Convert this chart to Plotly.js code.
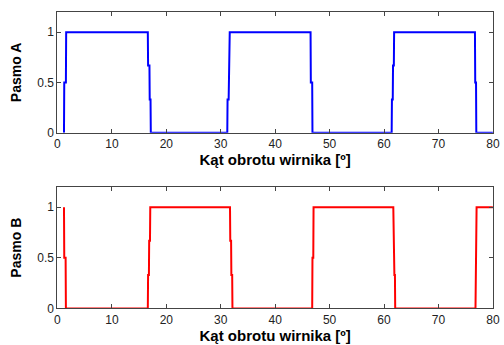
<!DOCTYPE html>
<html><head><meta charset="utf-8">
<script src="https://cdn.plot.ly/plotly-3.0.1.min.js"></script>
<style>html,body{margin:0;padding:0;background:#fff}#c{width:504px;height:345px}</style>
</head><body><div id="c"></div>
<script>
// Pasmo A (phase A) – angle [deg] and value
const angleA = [1.2,1.25,1.55,1.6,16.6,16.65,16.9,16.95,17.1,17.15,31.2,31.25,31.45,31.5,31.6,31.65,46.5,46.55,46.8,46.85,61.4,61.45,61.6,61.65,61.8,61.85,76.7,76.75,76.9,76.95,80];
const valueA = [0,0.5,0.5,1,1,0.67,0.67,0.33,0.33,0,0,0.33,0.33,0.67,0.67,1,1,0.5,0.5,0,0,0.33,0.33,0.67,0.67,1,1,0.5,0.5,0,0];
// Pasmo B (phase B)
const angleB = [1.2,1.25,1.5,1.55,16.6,16.65,16.8,16.85,17.0,17.05,31.7,31.75,31.9,31.95,32.1,32.15,46.8,46.85,47.0,47.05,61.7,61.75,61.85,61.9,62.0,62.05,76.8,76.85,76.95,77.0,80];
const valueB = [1,0.5,0.5,0,0,0.33,0.33,0.67,0.67,1,1,0.67,0.67,0.33,0.33,0,0,0.5,0.5,1,1,0.67,0.67,0.33,0.33,0,0,0.5,0.5,1,1];
const xTicks = [0,10,20,30,40,50,60,70,80];
const yTicks = [0,0.5,1];
const yTickText = ['0','0.5','1'];
const xTitle = 'Kąt obrotu wirnika [º]';
const yTitleA = 'Pasmo A';
const yTitleB = 'Pasmo B';

const font = {family:'Liberation Sans, Arial, sans-serif', size:12, color:'#222'};
const xTitleFont = {family:'Liberation Sans, Arial, sans-serif', size:15, color:'#000', weight:'bold'};
const yTitleFont = {family:'Liberation Sans, Arial, sans-serif', size:14, color:'#000', weight:'bold'};
function xax(anchor){return {domain:[0.114,0.978], range:[0,80], tickvals:xTicks, ticks:'inside', ticklen:4, tickcolor:'#444', showline:true, linecolor:'#444', linewidth:1, mirror:'allticks', showgrid:false, zeroline:false, anchor:anchor, tickfont:font, title:{text:xTitle, font:xTitleFont, standoff:4}};}
function yax(dom,anchor,t){return {domain:dom, range:[0,1.2], tickvals:yTicks, ticktext:yTickText, ticks:'inside', ticklen:4, tickcolor:'#444', showline:true, linecolor:'#444', linewidth:1, mirror:'allticks', showgrid:false, zeroline:false, anchor:anchor, tickfont:font, title:{text:t, font:yTitleFont, standoff:12}};}

const data = [
  {x:angleA, y:valueA, type:'scatter', mode:'lines', line:{color:'#0000ff', width:2}, xaxis:'x', yaxis:'y', showlegend:false},
  {x:angleB, y:valueB, type:'scatter', mode:'lines', line:{color:'#ff0000', width:2}, xaxis:'x2', yaxis:'y2', showlegend:false}
];
const layout = {
  width:504, height:345, margin:{l:0,r:0,t:0,b:0}, paper_bgcolor:'#fff', plot_bgcolor:'#fff',
  xaxis:xax('y'), yaxis:yax([0.615,0.965],'x',yTitleA),
  xaxis2:xax('y2'), yaxis2:yax([0.106,0.458],'x2',yTitleB)
};
Plotly.newPlot('c', data, layout, {staticPlot:true, displayModeBar:false});
</script></body></html>
